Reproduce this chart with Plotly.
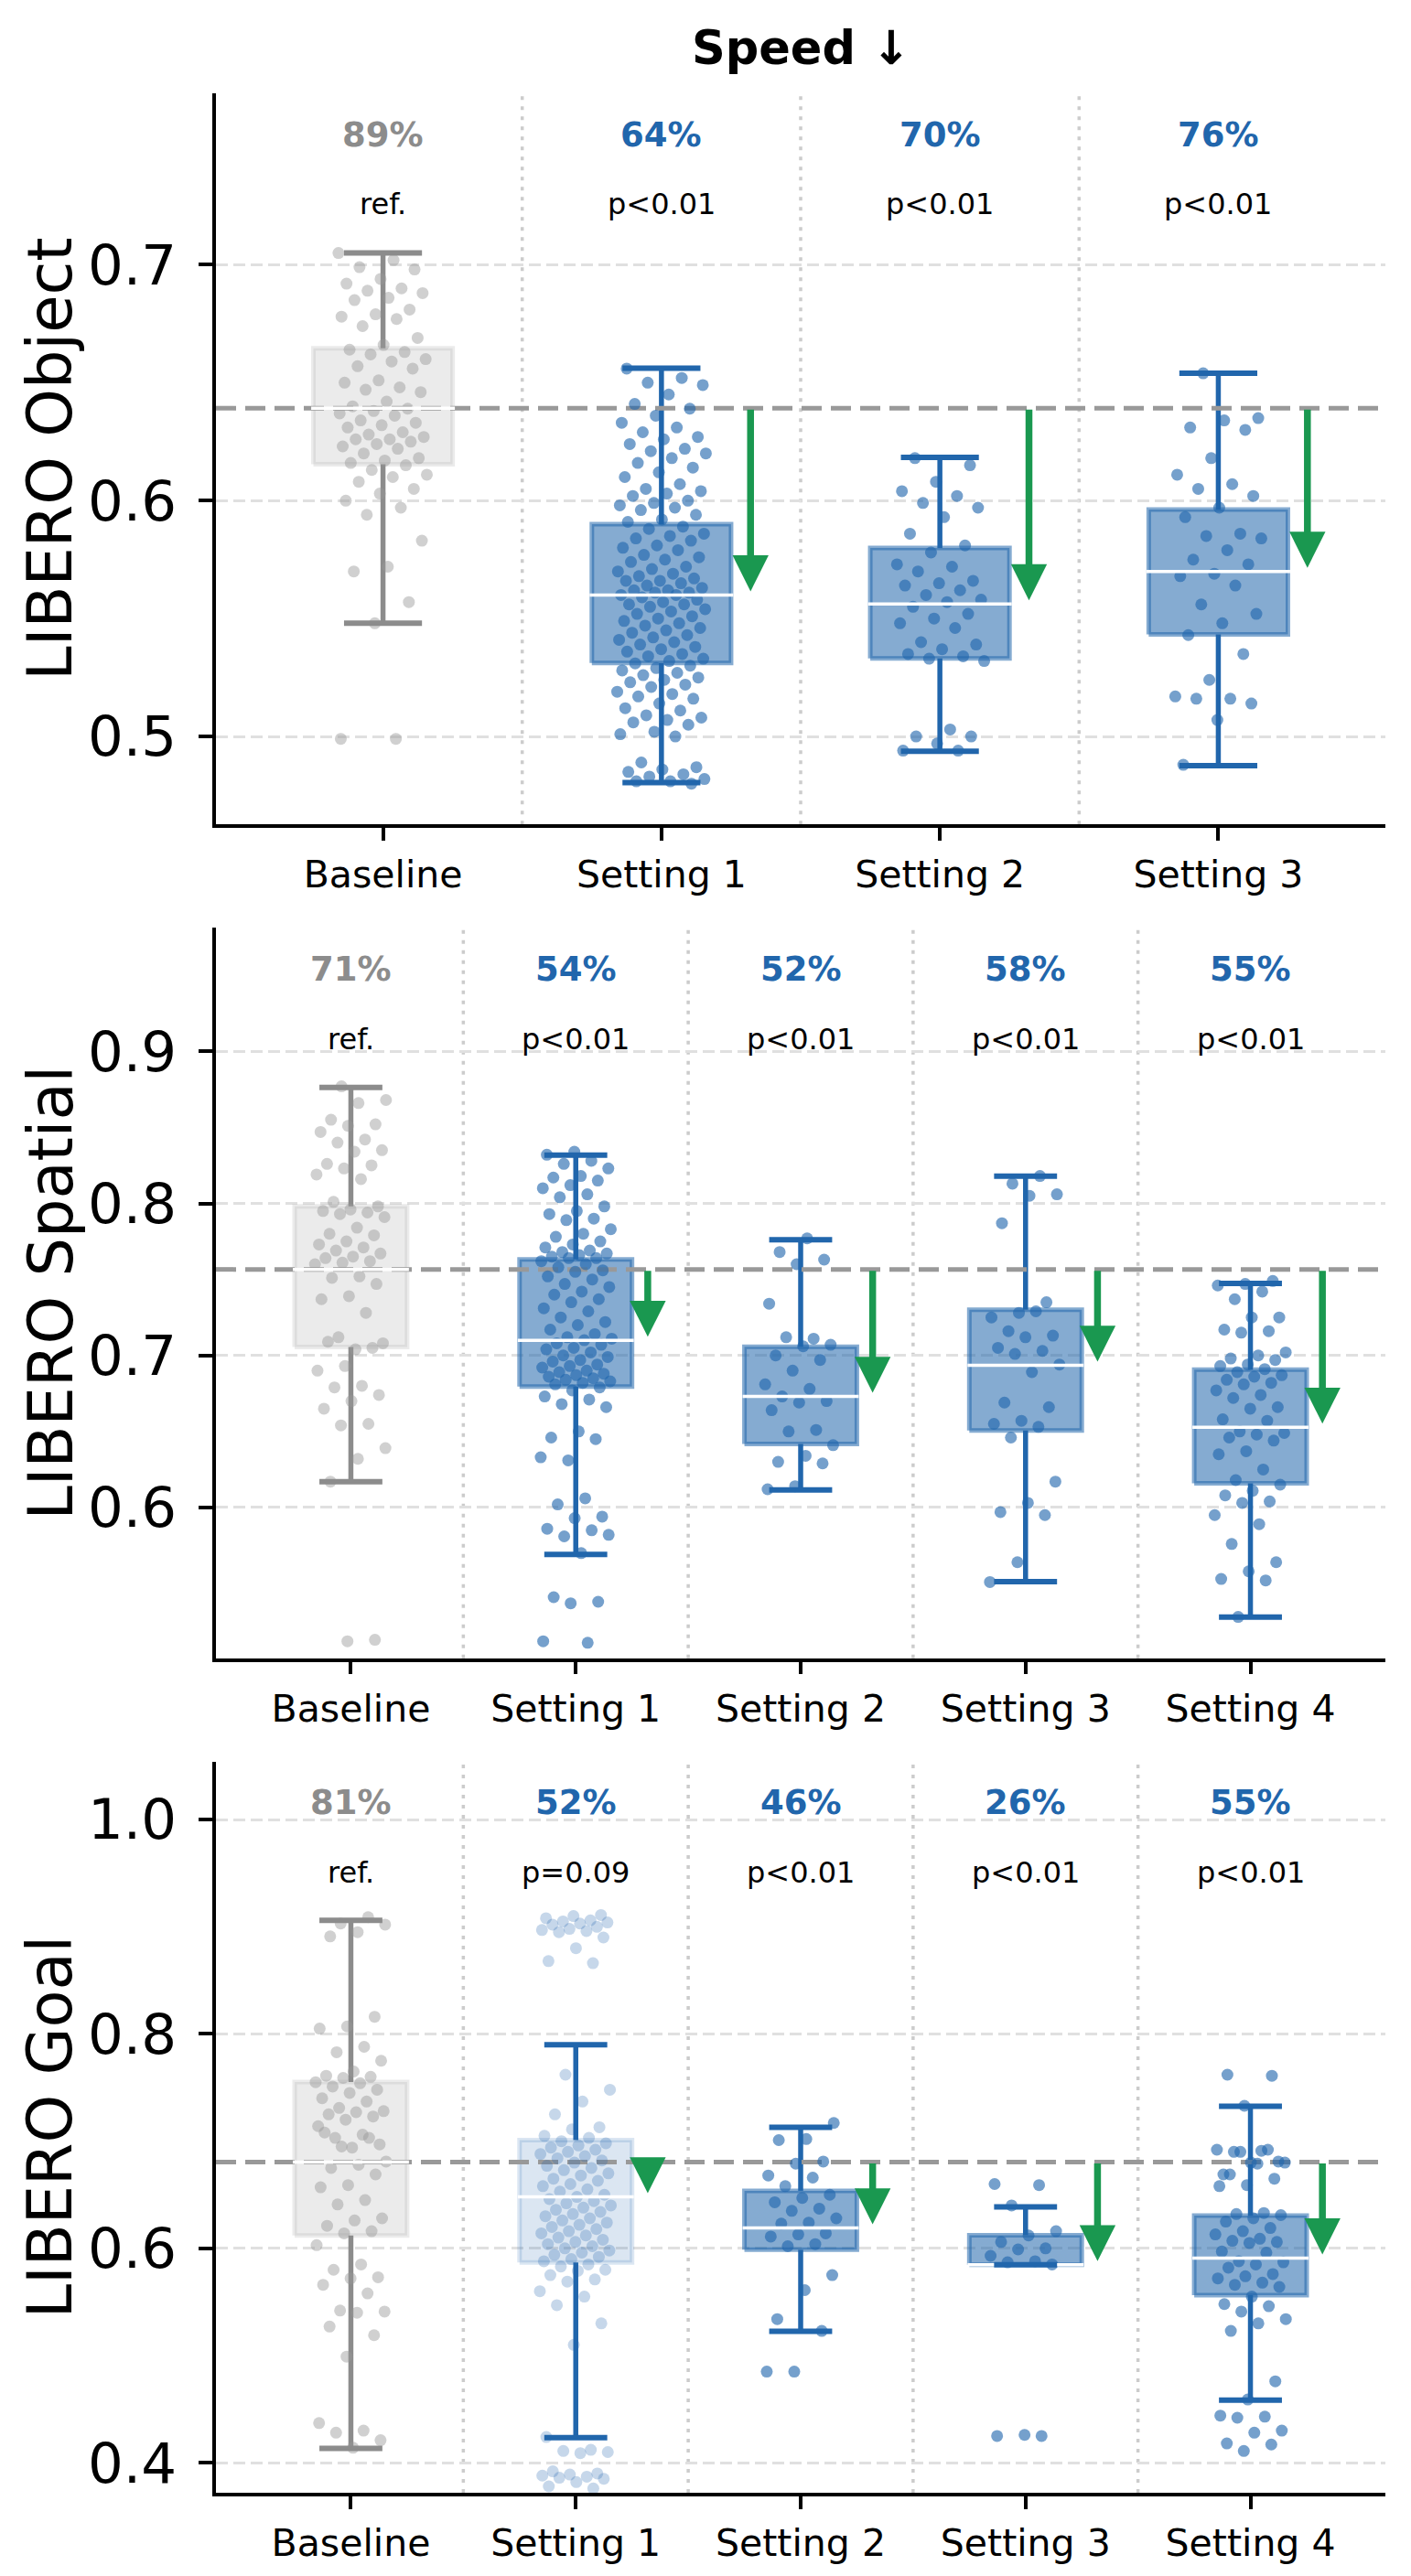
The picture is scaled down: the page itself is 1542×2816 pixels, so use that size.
import plotly.graph_objects as go

# ---------------- data ----------------
TITLE = "Speed ↓"

obj_label = "LIBERO Object"
obj_categories = ["Baseline", "Setting 1", "Setting 2", "Setting 3"]
obj_pct = ["89%", "64%", "70%", "76%"]
obj_pval = ["ref.", "p<0.01", "p<0.01", "p<0.01"]
obj_q1 = [0.6154, 0.5312, 0.5331, 0.5433]
obj_med = [0.6392, 0.5600, 0.5562, 0.5700]
obj_q3 = [0.6646, 0.5900, 0.5799, 0.5962]
obj_wlo = [0.5480, 0.4805, 0.4937, 0.4876]
obj_whi = [0.7050, 0.6562, 0.6183, 0.6540]
obj_yticks = [0.5, 0.6, 0.7]
obj_yrange = [0.4627, 0.7727]
obj_base_pts = [0.705, 0.702, 0.699, 0.698, 0.694, 0.692, 0.690, 0.689, 0.688, 0.686, 0.685, 0.681,
                0.679, 0.678, 0.677, 0.674, 0.669, 0.666, 0.664, 0.663, 0.662, 0.660, 0.659, 0.657,
                0.656, 0.651, 0.650, 0.648, 0.647, 0.646, 0.642, 0.640, 0.639, 0.638, 0.637, 0.636,
                0.634, 0.633, 0.632, 0.631, 0.629, 0.628, 0.627, 0.626, 0.626, 0.625, 0.624, 0.623,
                0.622, 0.620, 0.618, 0.617, 0.616, 0.615, 0.613, 0.611, 0.610, 0.608, 0.605, 0.603,
                0.600, 0.597, 0.594, 0.583, 0.572, 0.570, 0.557, 0.548, 0.499, 0.499]
obj_s1_pts = [0.656, 0.652, 0.650, 0.649, 0.645, 0.641, 0.639, 0.636, 0.633, 0.631, 0.629, 0.627,
              0.626, 0.624, 0.622, 0.621, 0.620, 0.618, 0.616, 0.614, 0.612, 0.610, 0.607, 0.605,
              0.604, 0.603, 0.602, 0.600, 0.599, 0.598, 0.597, 0.596, 0.594, 0.592, 0.591,
              0.589, 0.588, 0.586, 0.585, 0.584, 0.583, 0.581, 0.580, 0.579, 0.577, 0.576, 0.575,
              0.574, 0.572, 0.571, 0.570, 0.569, 0.568, 0.567, 0.566, 0.566, 0.565, 0.564, 0.563,
              0.562, 0.562, 0.561, 0.561, 0.560, 0.560, 0.559, 0.558, 0.557, 0.556, 0.556, 0.555,
              0.554, 0.553, 0.552, 0.551, 0.550, 0.549, 0.548, 0.547, 0.546, 0.545, 0.544, 0.543,
              0.542, 0.541, 0.540, 0.539, 0.538, 0.537, 0.536, 0.535, 0.534, 0.533, 0.532, 0.531,
              0.530, 0.529, 0.528, 0.527, 0.526, 0.525, 0.524, 0.523, 0.522, 0.521, 0.519, 0.518,
              0.517, 0.516, 0.514, 0.512, 0.511, 0.509, 0.508, 0.507, 0.506, 0.505, 0.502, 0.501,
              0.500, 0.489, 0.487, 0.486, 0.485, 0.484, 0.483, 0.482, 0.481, 0.481, 0.480]
obj_s2_pts = [0.618, 0.615, 0.608, 0.604, 0.602, 0.599, 0.597, 0.593, 0.586, 0.581, 0.578, 0.573,
              0.572, 0.570, 0.566, 0.565, 0.564, 0.562, 0.560, 0.558, 0.557, 0.555, 0.552, 0.550,
              0.548, 0.546, 0.540, 0.539, 0.537, 0.535, 0.534, 0.533, 0.532, 0.503, 0.500, 0.500,
              0.497, 0.494, 0.494]
obj_s3_pts = [0.654, 0.635, 0.634, 0.631, 0.630, 0.618, 0.611, 0.607, 0.605, 0.602, 0.597, 0.593,
              0.586, 0.585, 0.584, 0.579, 0.575, 0.573, 0.569, 0.568, 0.564, 0.556, 0.552, 0.548,
              0.543, 0.535, 0.524, 0.517, 0.516, 0.516, 0.514, 0.507, 0.488]

spa_label = "LIBERO Spatial"
spa_categories = ["Baseline", "Setting 1", "Setting 2", "Setting 3", "Setting 4"]
spa_pct = ["71%", "54%", "52%", "58%", "55%"]
spa_pval = ["ref.", "p<0.01", "p<0.01", "p<0.01", "p<0.01"]
spa_q1 = [0.7055, 0.6796, 0.6418, 0.6507, 0.6159]
spa_med = [0.7566, 0.7099, 0.6730, 0.6935, 0.6527]
spa_q3 = [0.7980, 0.7632, 0.7057, 0.7301, 0.6906]
spa_wlo = [0.6169, 0.5691, 0.6115, 0.5512, 0.5279]
spa_whi = [0.8762, 0.8318, 0.7761, 0.8179, 0.7473]
spa_yticks = [0.6, 0.7, 0.8, 0.9]
spa_yrange = [0.5009, 0.9812]
spa_base_pts = [0.877, 0.868, 0.866, 0.855, 0.852, 0.851, 0.847, 0.842, 0.840, 0.835, 0.834, 0.826,
                0.825, 0.823, 0.819, 0.816, 0.801, 0.798, 0.796, 0.795, 0.794, 0.793, 0.791, 0.784,
                0.780, 0.779, 0.775, 0.773, 0.771, 0.769, 0.767, 0.765, 0.764, 0.762, 0.761, 0.760,
                0.752, 0.751, 0.747, 0.739, 0.737, 0.728, 0.712, 0.708, 0.704, 0.709, 0.705, 0.693,
                0.690, 0.680, 0.679, 0.674, 0.670, 0.665, 0.655, 0.654, 0.639, 0.632, 0.617, 0.513,
                0.512]
spa_s1_pts = [0.834, 0.832, 0.828, 0.826, 0.823, 0.818, 0.817, 0.815, 0.812, 0.810, 0.806, 0.804,
              0.798, 0.795, 0.793, 0.790, 0.789, 0.783, 0.780, 0.778, 0.775, 0.773, 0.771, 0.769,
              0.768, 0.767, 0.766, 0.765, 0.764, 0.764,
              0.762, 0.760, 0.758, 0.756, 0.755, 0.752, 0.750, 0.747, 0.745, 0.742, 0.740, 0.737,
              0.735, 0.731, 0.729, 0.725, 0.722, 0.720, 0.717, 0.714, 0.712, 0.711,
              0.710, 0.708, 0.707, 0.705, 0.704, 0.702, 0.700, 0.699, 0.697, 0.696, 0.694, 0.693,
              0.692, 0.690, 0.689, 0.688, 0.687, 0.686, 0.685, 0.684, 0.683, 0.682, 0.681,
              0.679, 0.677, 0.673, 0.671, 0.668, 0.666, 0.650, 0.646, 0.645, 0.631, 0.633, 0.606,
              0.602, 0.594, 0.593, 0.586, 0.585, 0.581, 0.582, 0.570, 0.541, 0.538, 0.537, 0.512,
              0.511]
spa_s2_pts = [0.777, 0.768, 0.763, 0.760, 0.734, 0.711, 0.712, 0.707, 0.706, 0.700, 0.697, 0.690,
              0.681, 0.678, 0.673, 0.670, 0.669, 0.664, 0.651, 0.650, 0.641, 0.634, 0.630, 0.629,
              0.614, 0.612]
spa_s3_pts = [0.818, 0.813, 0.806, 0.805, 0.787, 0.735, 0.728, 0.725, 0.729, 0.716, 0.713, 0.712,
              0.705, 0.703, 0.701, 0.694, 0.689, 0.669, 0.666, 0.657, 0.655, 0.653, 0.646, 0.617,
              0.603, 0.597, 0.595, 0.564, 0.551]
spa_s4_pts = [0.749, 0.747, 0.746, 0.742, 0.737, 0.725, 0.725, 0.717, 0.716, 0.715, 0.702, 0.700,
              0.698, 0.697, 0.694, 0.693, 0.691, 0.689, 0.687, 0.686, 0.684, 0.682, 0.681, 0.677,
              0.674, 0.672, 0.666, 0.665, 0.658, 0.657, 0.650, 0.649, 0.648, 0.646, 0.644, 0.637,
              0.635, 0.625, 0.618, 0.615, 0.611, 0.608, 0.604, 0.603, 0.595, 0.589, 0.576, 0.564,
              0.558, 0.553, 0.552, 0.528]

goal_label = "LIBERO Goal"
goal_categories = ["Baseline", "Setting 1", "Setting 2", "Setting 3", "Setting 4"]
goal_pct = ["81%", "52%", "46%", "26%", "55%"]
goal_pval = ["ref.", "p=0.09", "p<0.01", "p<0.01", "p<0.01"]
goal_q1 = [0.6120, 0.5869, 0.5987, 0.5846, 0.5564]
goal_med = [0.6805, 0.6480, 0.6190, 0.5846, 0.5909]
goal_q3 = [0.7552, 0.7010, 0.6537, 0.6123, 0.6306]
goal_wlo = [0.4133, 0.4234, 0.5226, 0.5846, 0.4584]
goal_whi = [0.9060, 0.7899, 0.7129, 0.6387, 0.7326]
goal_yticks = [0.4, 0.6, 0.8, 1.0]
goal_yrange = [0.372, 1.0541]
goal_base_pts = [0.909, 0.903, 0.902, 0.895, 0.891, 0.816, 0.807, 0.805, 0.788, 0.783, 0.775, 0.765,
                 0.761, 0.760, 0.759, 0.755, 0.754, 0.751, 0.748, 0.745, 0.740, 0.737, 0.731, 0.728,
                 0.727, 0.725, 0.723, 0.720, 0.714, 0.706, 0.703, 0.697, 0.694, 0.708, 0.703, 0.695,
                 0.681, 0.678, 0.675, 0.669, 0.659, 0.657, 0.645, 0.641, 0.628, 0.626, 0.621, 0.616,
                 0.614, 0.603, 0.585, 0.580, 0.573, 0.572, 0.566, 0.558, 0.542, 0.541, 0.540, 0.527,
                 0.519, 0.499, 0.437, 0.430, 0.428, 0.421, 0.414]
goal_s1_pts = [0.911, 0.910, 0.908, 0.906, 0.905, 0.904, 0.903, 0.902, 0.900, 0.898, 0.897, 0.896,
               0.895, 0.890, 0.880, 0.868, 0.866,
               0.762, 0.748, 0.737, 0.725, 0.713, 0.711, 0.705, 0.703,
               0.700, 0.698, 0.696, 0.694, 0.692, 0.690, 0.688, 0.686, 0.684, 0.682, 0.680, 0.677,
               0.675, 0.673, 0.670, 0.668, 0.665, 0.663, 0.660, 0.658, 0.655, 0.653, 0.650, 0.648,
               0.646, 0.644, 0.642, 0.640, 0.638, 0.636, 0.634, 0.632, 0.630, 0.628, 0.626, 0.624,
               0.622, 0.620, 0.618, 0.616, 0.614, 0.612, 0.610, 0.608, 0.606, 0.604, 0.602, 0.600,
               0.598, 0.596, 0.594, 0.592, 0.590, 0.588,
               0.585, 0.583, 0.580, 0.579, 0.575, 0.571, 0.569, 0.560, 0.555, 0.547, 0.530, 0.510,
               0.424, 0.412, 0.411, 0.410, 0.409, 0.392, 0.390, 0.389, 0.388, 0.387, 0.386, 0.385,
               0.382, 0.378, 0.376]
goal_s2_pts = [0.717, 0.702, 0.701, 0.681, 0.679, 0.668, 0.666, 0.658, 0.650, 0.647, 0.643, 0.637,
               0.635, 0.628, 0.624, 0.623, 0.614, 0.613, 0.611, 0.604, 0.602, 0.575, 0.561, 0.534,
               0.523, 0.485, 0.485]
goal_s3_pts = [0.660, 0.659, 0.640, 0.616, 0.612, 0.606, 0.600, 0.599, 0.593, 0.588, 0.587, 0.585,
               0.426, 0.425, 0.425]
goal_s4_pts = [0.762, 0.761, 0.733, 0.692, 0.691, 0.690, 0.681, 0.680, 0.669, 0.692, 0.690, 0.680,
               0.679, 0.669, 0.665, 0.659, 0.658, 0.633, 0.632, 0.631, 0.628, 0.625, 0.619, 0.616,
               0.613, 0.609, 0.607, 0.606, 0.605, 0.597, 0.596, 0.588, 0.587, 0.585, 0.582, 0.576,
               0.574, 0.572, 0.568, 0.566, 0.564, 0.555, 0.548, 0.546, 0.541, 0.534, 0.530, 0.523,
               0.476, 0.459, 0.444, 0.443, 0.442, 0.430, 0.428, 0.418, 0.417, 0.411]

panels = [
    dict(label=obj_label, cats=obj_categories, pct=obj_pct, pval=obj_pval, q1=obj_q1, med=obj_med,
         q3=obj_q3, wlo=obj_wlo, whi=obj_whi, yticks=obj_yticks, yrange=obj_yrange,
         pts=[obj_base_pts, obj_s1_pts, obj_s2_pts, obj_s3_pts]),
    dict(label=spa_label, cats=spa_categories, pct=spa_pct, pval=spa_pval, q1=spa_q1, med=spa_med,
         q3=spa_q3, wlo=spa_wlo, whi=spa_whi, yticks=spa_yticks, yrange=spa_yrange,
         pts=[spa_base_pts, spa_s1_pts, spa_s2_pts, spa_s3_pts, spa_s4_pts]),
    dict(label=goal_label, cats=goal_categories, pct=goal_pct, pval=goal_pval, q1=goal_q1, med=goal_med,
         q3=goal_q3, wlo=goal_wlo, whi=goal_whi, yticks=goal_yticks, yrange=goal_yrange,
         pts=[goal_base_pts, goal_s1_pts, goal_s2_pts, goal_s3_pts, goal_s4_pts]),
]

# ---------------- style ----------------
W, H = 1542, 2816
FONT = "DejaVu Sans"
BLUE = "#2166ac"
GREY = "#8c8c8c"
GREEN = "#1a9850"
ML, MR, MT, MB = 236, 28, 102, 69
PLOT_H = H - MT - MB
panel_px = [(102, 908), (1022, 1827), (1941, 2747)]

BOX_HALF = 0.25
CAP_HALF = 0.14
ARROW_DX = 0.32
JITTER = 0.16


def group_style(base, sig):
    if base:
        return "rgba(175,175,175,0.25)", GREY, "rgba(150,150,150,0.45)"
    if sig:
        return "rgba(33,102,172,0.55)", BLUE, "rgba(33,102,172,0.62)"
    return "rgba(33,102,172,0.16)", BLUE, "rgba(33,102,172,0.26)"


fig = go.Figure()
annotations = []
shapes = []
layout_axes = {}

for k, p in enumerate(panels):
    idx = "" if k == 0 else str(k + 1)
    xa, ya = "x" + idx, "y" + idx
    n = len(p["cats"])
    xr = [-0.6, n - 0.4]
    ref = p["med"][0]
    top, bot = panel_px[k]
    dom = [(H - MB - bot) / PLOT_H, (H - MB - top) / PLOT_H]

    for i in range(n):
        fill, wcol, dcol = group_style(i == 0, p["pval"][i].startswith("p<"))
        fig.add_trace(go.Scatter(
            x=[i - BOX_HALF, i + BOX_HALF, i + BOX_HALF, i - BOX_HALF, i - BOX_HALF],
            y=[p["q1"][i], p["q1"][i], p["q3"][i], p["q3"][i], p["q1"][i]],
            mode="lines", fill="toself", fillcolor=fill, line=dict(color=fill, width=5),
            xaxis=xa, yaxis=ya, hoverinfo="skip", showlegend=False))
        fig.add_trace(go.Scatter(
            x=[i, i, None, i, i],
            y=[p["q3"][i], p["whi"][i], None, p["q1"][i], p["wlo"][i]],
            mode="lines", line=dict(color=wcol, width=5.5),
            xaxis=xa, yaxis=ya, hoverinfo="skip", showlegend=False))

    fig.add_trace(go.Scatter(
        x=xr, y=[ref, ref], mode="lines",
        line=dict(color="#999999", width=5, dash="22px,10px"),
        xaxis=xa, yaxis=ya, hoverinfo="skip", showlegend=False))

    for i in range(n):
        base = i == 0
        fill, wcol, dcol = group_style(base, p["pval"][i].startswith("p<"))
        vals = p["pts"][i]
        xs = [i + (((j * 0.6180339887 + 0.37 * k + 0.11 * i) % 1.0) - 0.5) * 2 * JITTER
              for j in range(len(vals))]
        fig.add_trace(go.Scatter(
            x=xs, y=vals, mode="markers",
            marker=dict(size=13, color=dcol, line=dict(width=0)),
            xaxis=xa, yaxis=ya, hoverinfo="skip", showlegend=False))
        fig.add_trace(go.Scatter(
            x=[i - BOX_HALF - 0.008, i + BOX_HALF + 0.008], y=[p["med"][i], p["med"][i]],
            mode="lines", line=dict(color="white", width=3.5),
            xaxis=xa, yaxis=ya, hoverinfo="skip", showlegend=False))
        fig.add_trace(go.Scatter(
            x=[i - CAP_HALF, i + CAP_HALF, None, i - CAP_HALF, i + CAP_HALF],
            y=[p["whi"][i], p["whi"][i], None, p["wlo"][i], p["wlo"][i]],
            mode="lines", line=dict(color=wcol, width=6),
            xaxis=xa, yaxis=ya, hoverinfo="skip", showlegend=False))

        annotations.append(dict(
            x=i, y=0.9435, xref=xa, yref=ya + " domain", text="<b>%s</b>" % p["pct"][i],
            showarrow=False, xanchor="center", yanchor="middle",
            font=dict(family=FONT, size=37, color=GREY if base else BLUE)))
        annotations.append(dict(
            x=i, y=0.848, xref=xa, yref=ya + " domain", text=p["pval"][i],
            showarrow=False, xanchor="center", yanchor="middle",
            font=dict(family=FONT, size=32, color="black")))
        if not base:
            annotations.append(dict(
                x=i + ARROW_DX, y=p["med"][i], ax=i + ARROW_DX, ay=ref,
                xref=xa, yref=ya, axref=xa, ayref=ya, text="", showarrow=True,
                arrowhead=2, arrowsize=1.05, arrowwidth=7.5, arrowcolor=GREEN, standoff=4))

    for i in range(n - 1):
        shapes.append(dict(type="line", xref=xa, yref=ya + " domain", x0=i + 0.5, x1=i + 0.5,
                           y0=0, y1=1, layer="below",
                           line=dict(color="#cccccc", width=3.5, dash="4px,7px")))

    annotations.append(dict(
        x=(55 - ML) / (W - ML - MR), y=0.5, xref="paper", yref=ya + " domain",
        text=p["label"], textangle=-90, showarrow=False, xanchor="center", yanchor="middle",
        font=dict(family=FONT, size=67, color="black")))

    layout_axes["xaxis" + idx] = dict(
        domain=[0, 1], anchor=ya, range=xr, tickvals=list(range(n)), ticktext=p["cats"],
        showline=True, linecolor="black", linewidth=3.5, ticks="outside", ticklen=14,
        tickwidth=3.5, tickcolor="black", showgrid=False, zeroline=False,
        tickfont=dict(family=FONT, size=41, color="black"), ticklabelstandoff=2)
    layout_axes["yaxis" + idx] = dict(
        domain=dom, anchor=xa, range=p["yrange"], tickvals=p["yticks"], tickformat=".1f",
        showline=True, linecolor="black", linewidth=3.5, ticks="outside", ticklen=15,
        tickwidth=3.5, tickcolor="black", showgrid=True, gridcolor="#e0e0e0", gridwidth=3,
        griddash="13px,6px", zeroline=False,
        tickfont=dict(family=FONT, size=61, color="black"), ticklabelstandoff=12)

annotations.append(dict(
    x=0.5, y=(H - MB - 52) / PLOT_H, xref="paper", yref="paper", text="<b>%s</b>" % TITLE,
    showarrow=False, xanchor="center", yanchor="middle",
    font=dict(family=FONT, size=51, color="black")))

fig.update_layout(
    width=W, height=H, margin=dict(l=ML, r=MR, t=MT, b=MB),
    paper_bgcolor="white", plot_bgcolor="white", showlegend=False,
    font=dict(family=FONT, color="black"),
    annotations=annotations, shapes=shapes, **layout_axes)

fig.write_html("out.html")
